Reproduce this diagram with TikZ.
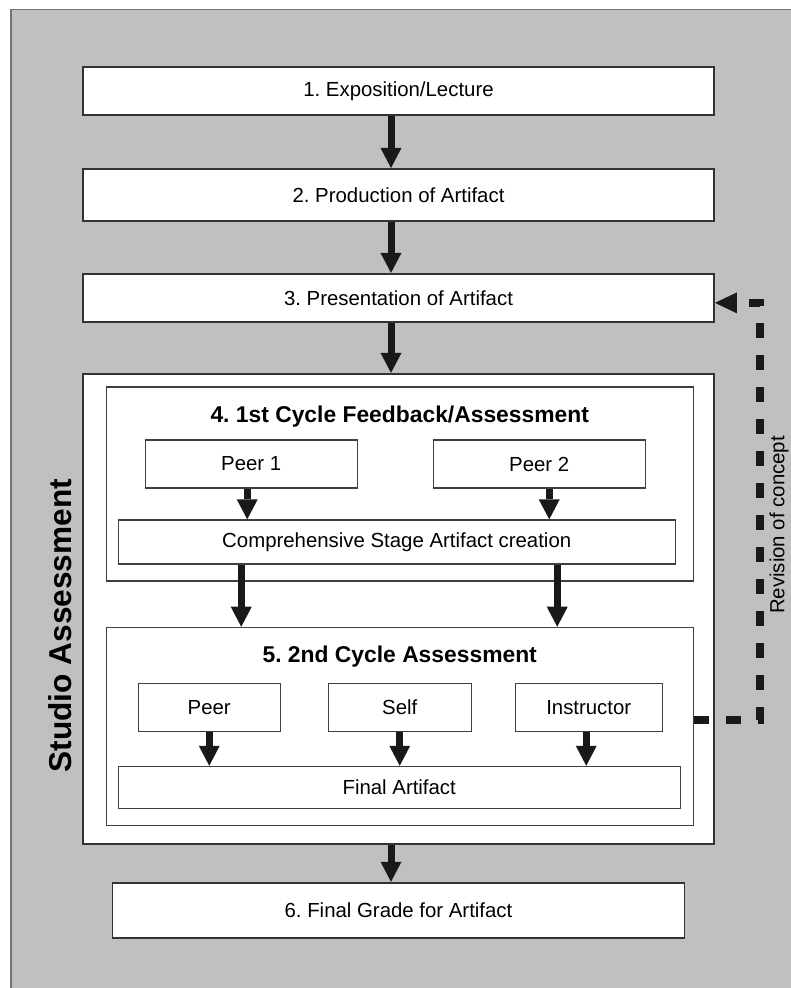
\documentclass[tikz,border=0pt]{standalone}
\usepackage{fontspec}
\setsansfont{Liberation Sans}
\usetikzlibrary{arrows.meta,positioning}
\definecolor{bggray}{RGB}{192,192,192}
\frenchspacing

\begin{document}
\begin{tikzpicture}[
    node distance=1.02cm,
    every node/.style={font=\sffamily\fontsize{11.6}{14}\selectfont, align=center},
    stage/.style={draw=black!80, line width=1.1pt, fill=white, minimum width=12.62cm, minimum height=0.96cm, inner sep=0pt},
    panel/.style={draw=black!75, line width=0.8pt, fill=white, minimum width=11.74cm, inner sep=0pt},
    item/.style={draw=black!75, line width=0.8pt, fill=white, minimum height=0.96cm, inner sep=0pt},
    heading/.style={font=\sffamily\bfseries\fontsize{13}{15}\selectfont, inner sep=0pt},
    arrow/.style={line width=0.14cm, draw=black!90, -{Triangle[width=0.42cm, length=0.4cm, line width=0pt]}},
    revision/.style={line width=0.16cm, draw=black!90, dash pattern=on 0.3cm off 0.34cm, -{Triangle[width=0.42cm, length=0.44cm, line width=0pt]}}
  ]
    \useasboundingbox (0,0) rectangle (15.82,-19.76);
    \filldraw[fill=bggray, draw=black!55, line width=0.6pt] (0.22,-0.185) rectangle (16.5,-20.5);

    % Main stages
    \node[stage] (expo) at (7.97,-1.82) {1. Exposition/Lecture};
    \node[stage, minimum height=1.04cm, below=1.04cm of expo] (production) {2. Production of Artifact};
    \node[stage, below=1.02cm of production] (presentation) {3. Presentation of Artifact};
    \node[stage, minimum height=9.4cm, below=1.0cm of presentation] (studio) {};
    \node[stage, minimum width=11.44cm, minimum height=1.1cm, below=0.74cm of studio] (grade) {6. Final Grade for Artifact};

    % 1st cycle
    \node[panel, minimum height=3.88cm, below right=0.27cm and 0.47cm of studio.north west] (cycleone) {};
    \node[heading, below=0.38cm of cycleone.north] (titleone) {4. 1st Cycle Feedback/Assessment};
    \node[item, minimum width=4.24cm, below right=1.06cm and 0.78cm of cycleone.north west] (peerone) {Peer 1};
    \node[item, minimum width=4.24cm, below left=1.06cm and 0.96cm of cycleone.north east] (peertwo) {Peer 2};
    \node[item, minimum width=11.14cm, minimum height=0.88cm, below right=2.66cm and 0.24cm of cycleone.north west] (comp) {Comprehensive Stage Artifact creation};

    % 2nd cycle
    \node[panel, minimum height=3.96cm, below=0.9cm of cycleone] (cycletwo) {};
    \node[heading, below=0.38cm of cycletwo.north] (titletwo) {5. 2nd Cycle Assessment};
    \node[item, minimum width=2.84cm, below right=1.12cm and 0.64cm of cycletwo.north west] (peer) {Peer};
    \node[item, minimum width=2.86cm, below=1.12cm of cycletwo.north] (self) {Self};
    \node[item, minimum width=2.94cm, below left=1.12cm and 0.62cm of cycletwo.north east] (instructor) {Instructor};
    \node[item, minimum width=11.24cm, minimum height=0.84cm, below right=2.78cm and 0.24cm of cycletwo.north west] (final) {Final Artifact};

    % Side labels
    \node[rotate=90, font=\sffamily\bfseries\fontsize{18}{20}\selectfont] (studiolabel) at ([xshift=-0.44cm, yshift=-0.34cm]studio.west) {Studio Assessment};
    \node[rotate=90] (revisionlabel) at (15.58,-10.5) {Revision of concept};

    % Flow
    \draw[arrow] ([xshift=-0.15cm]expo.south) -- ([xshift=-0.15cm]production.north);
    \draw[arrow] ([xshift=-0.15cm]production.south) -- ([xshift=-0.15cm]presentation.north);
    \draw[arrow] ([xshift=-0.15cm]presentation.south) -- ([xshift=-0.15cm]studio.north);
    \draw[arrow] ([xshift=-0.15cm]studio.south) -- ([xshift=-0.15cm]studio.south |- grade.north);

    \draw[arrow] ([xshift=-0.08cm]peerone.south) -- ([xshift=-0.08cm]peerone.south |- comp.north);
    \draw[arrow] ([xshift=0.2cm]peertwo.south) -- ([xshift=0.2cm]peertwo.south |- comp.north);
    \draw[arrow] ([xshift=-3.11cm]comp.south) -- ([xshift=-3.11cm]comp.south |- cycletwo.north);
    \draw[arrow] ([xshift=3.21cm]comp.south) -- ([xshift=3.21cm]comp.south |- cycletwo.north);

    \draw[arrow] (peer) -- (peer |- final.north);
    \draw[arrow] (self) -- (self |- final.north);
    \draw[arrow] ([xshift=-0.05cm]instructor.south) -- ([xshift=-0.05cm]instructor.south |- final.north);

    % Revision loop
    \draw[revision] ([yshift=0.12cm]cycletwo.east) -| ([xshift=0.9cm, yshift=-0.1cm]presentation.east) -- ([yshift=-0.1cm]presentation.east);

  \end{tikzpicture}
\end{document}
